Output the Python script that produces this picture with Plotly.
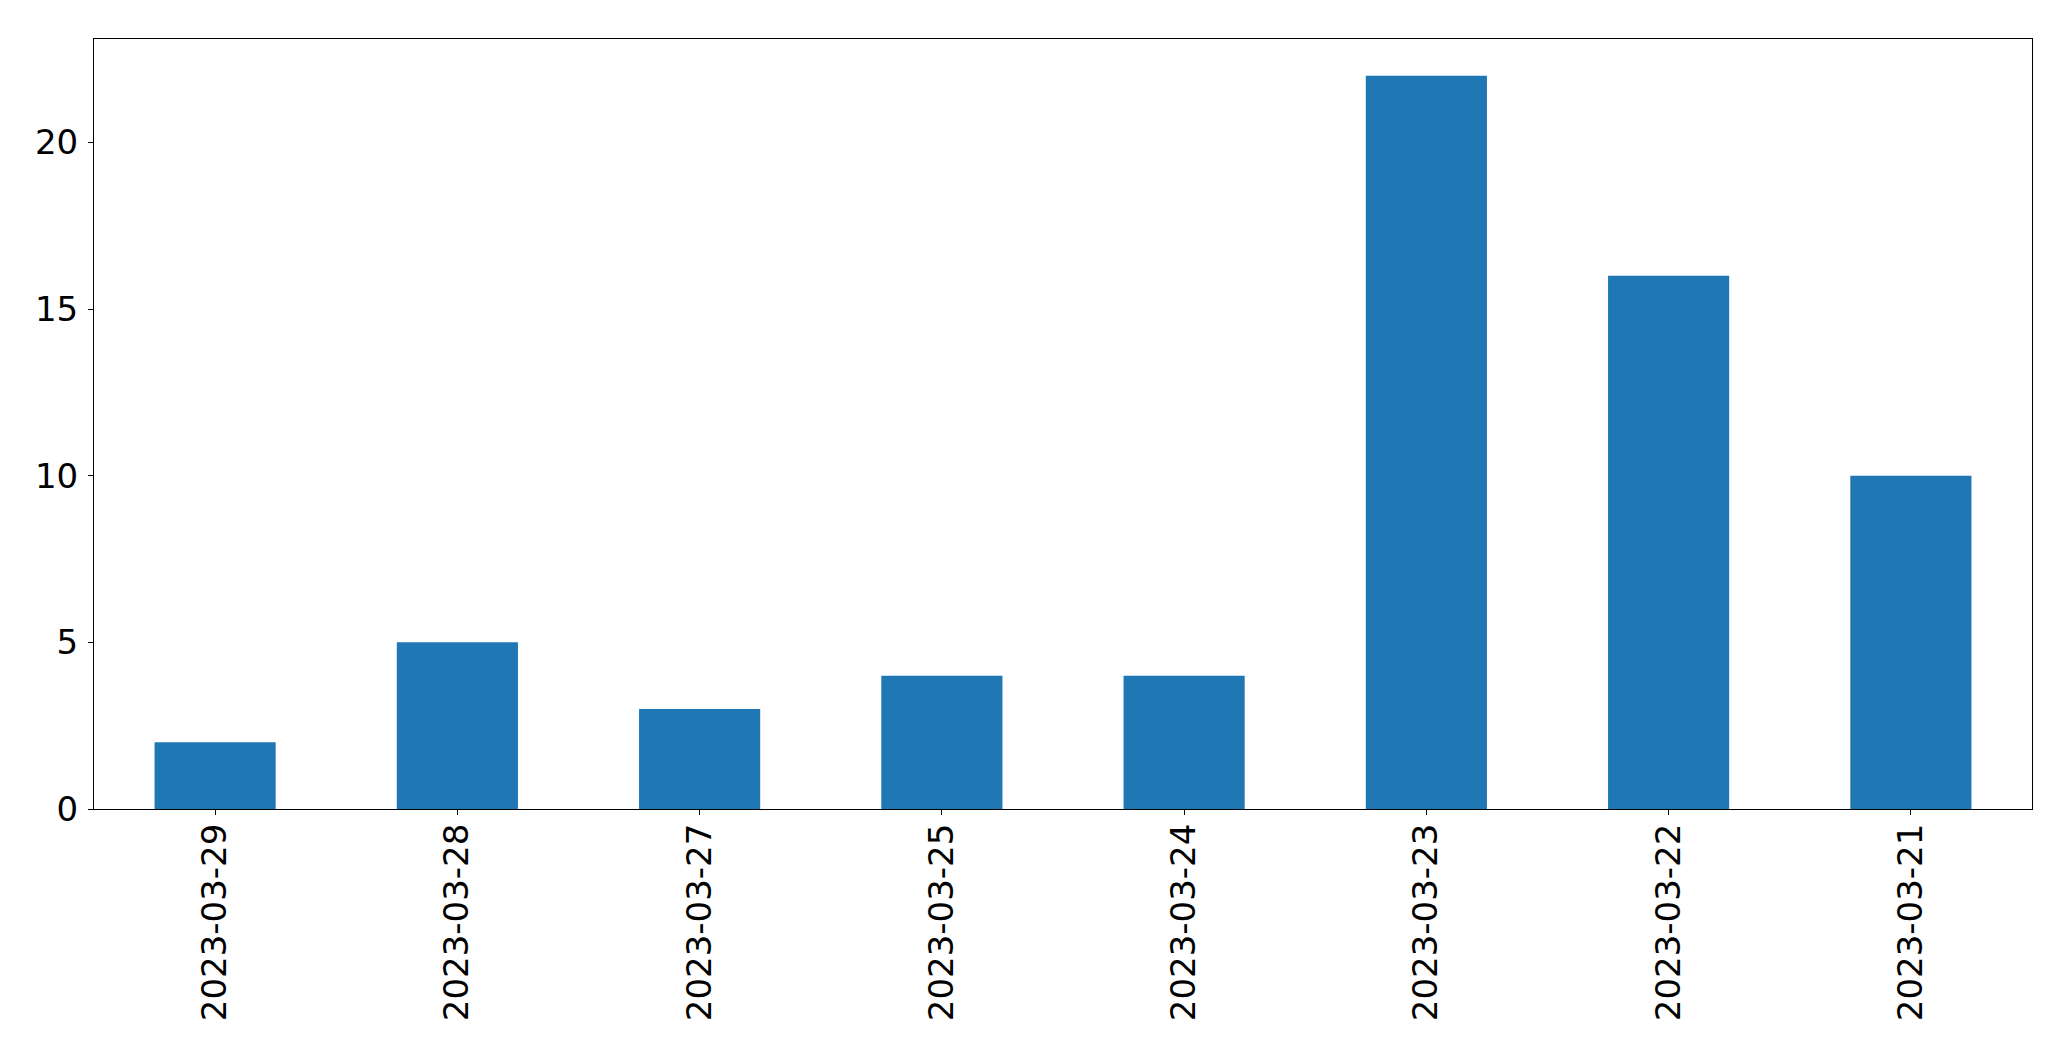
import plotly.graph_objects as go

dates = ["2023-03-29", "2023-03-28", "2023-03-27", "2023-03-25",
         "2023-03-24", "2023-03-23", "2023-03-22", "2023-03-21"]
counts = [2, 5, 3, 4, 4, 22, 16, 10]
y_ticks = [0, 5, 10, 15, 20]

fig = go.Figure(go.Bar(x=list(range(len(dates))), y=counts, width=0.5,
                       marker=dict(color="#1f77b4", line=dict(width=0))))

fig.update_layout(
    width=2071, height=1061,
    margin=dict(l=94, r=39, t=39, b=252, autoexpand=False),
    plot_bgcolor="white", paper_bgcolor="white",
    font=dict(family="DejaVu Sans", size=34, color="black"),
    showlegend=False,
)
fig.update_xaxes(
    range=[-0.5, len(dates) - 0.5],
    tickmode="array", tickvals=list(range(len(dates))), ticktext=dates,
    tickangle=-90, ticks="outside", ticklen=5, tickwidth=1.1, tickcolor="black",
    showline=True, linecolor="black", linewidth=1.1, mirror=True,
    showgrid=False, zeroline=False, ticklabelstandoff=-5, automargin=False,
)
fig.update_yaxes(
    range=[0, 23.1],
    tickmode="array", tickvals=y_ticks,
    ticks="outside", ticklen=5, tickwidth=1.1, tickcolor="black",
    showline=True, linecolor="black", linewidth=1.1, mirror=True,
    showgrid=False, zeroline=False, ticklabelstandoff=3, automargin=False,
)

fig.write_html("out.html", config={"displayModeBar": False},
               post_script="document.body.style.margin='0';")
